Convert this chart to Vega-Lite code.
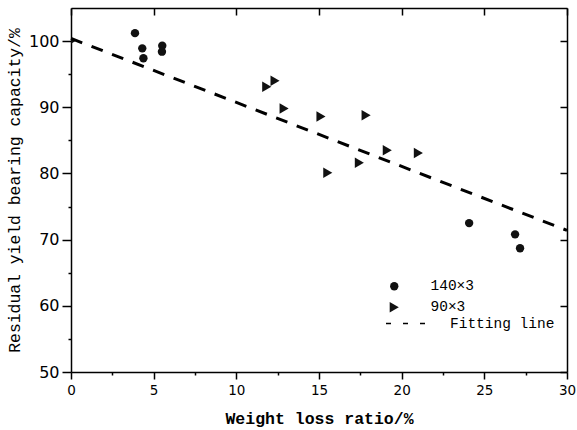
{
  "$schema": "https://vega.github.io/schema/vega-lite/v6.json",
  "width": 496,
  "height": 364,
  "autosize": {"type": "none"},
  "padding": {"left": 71, "top": 8, "right": 10, "bottom": 58},
  "background": "white",
  "config": {"view": {"stroke": null}},
  "data": {
    "values": [
      {"x": 3.87, "y": 101.2, "series": "140×3"},
      {"x": 4.31, "y": 98.9, "series": "140×3"},
      {"x": 4.38, "y": 97.4, "series": "140×3"},
      {"x": 5.52, "y": 99.3, "series": "140×3"},
      {"x": 5.5, "y": 98.4, "series": "140×3"},
      {"x": 24.08, "y": 72.5, "series": "140×3"},
      {"x": 26.86, "y": 70.8, "series": "140×3"},
      {"x": 27.16, "y": 68.7, "series": "140×3"},
      {"x": 0.0, "y": 100.0, "series": "90×3"},
      {"x": 11.84, "y": 93.1, "series": "90×3"},
      {"x": 12.34, "y": 94.0, "series": "90×3"},
      {"x": 12.89, "y": 89.8, "series": "90×3"},
      {"x": 15.12, "y": 88.6, "series": "90×3"},
      {"x": 17.85, "y": 88.8, "series": "90×3"},
      {"x": 15.53, "y": 80.1, "series": "90×3"},
      {"x": 17.44, "y": 81.6, "series": "90×3"},
      {"x": 19.13, "y": 83.5, "series": "90×3"},
      {"x": 21.01, "y": 83.1, "series": "90×3"},
      {"x": 0, "y": 100.4, "series": "Fitting line"},
      {"x": 30, "y": 71.4, "series": "Fitting line"}
    ]
  },
  "layer": [
    {
      "transform": [{"filter": "datum.series !== 'Fitting line'"}],
      "mark": {"type": "point", "filled": true, "opacity": 1, "color": "#111", "clip": true},
      "encoding": {
        "x": {
          "field": "x", "type": "quantitative",
          "scale": {"domain": [0, 30], "nice": false, "zero": false},
          "axis": {
            "orient": "bottom",
            "title": "Weight loss ratio/%",
            "titleFont": "Liberation Mono", "titleFontSize": 16.5, "titleFontWeight": "bold", "titleColor": "black", "titlePadding": 14,
            "values": [0, 2.5, 5, 7.5, 10, 12.5, 15, 17.5, 20, 22.5, 25, 27.5, 30],
            "labelExpr": "datum.value % 5 === 0 ? datum.label : ''",
            "labelFont": "DejaVu Sans", "labelFontSize": 13.5, "labelColor": "black", "labelPadding": 4,
            "labelFlush": false, "labelOverlap": false,
            "tickSize": {"condition": {"test": "datum.value % 5 === 0", "value": 7}, "value": 3},
            "tickColor": "black", "tickWidth": 1.5,
            "domainColor": "black", "domainWidth": 1.5, "grid": false
          }
        },
        "y": {
          "field": "y", "type": "quantitative",
          "scale": {"domain": [50, 105], "nice": false, "zero": false},
          "axis": {
            "orient": "left",
            "title": "Residual yield bearing capacity/%",
            "titleFont": "Liberation Mono", "titleFontSize": 16.4, "titleFontWeight": "normal", "titleColor": "black", "titlePadding": 6,
            "values": [50, 55, 60, 65, 70, 75, 80, 85, 90, 95, 100],
            "labelExpr": "datum.value % 10 === 0 ? datum.label : ''",
            "labelFont": "DejaVu Sans", "labelFontSize": 16, "labelColor": "black", "labelPadding": 3,
            "labelFlush": false, "labelOverlap": false,
            "tickSize": {"condition": {"test": "datum.value % 10 === 0", "value": 9}, "value": 3},
            "tickColor": "black", "tickWidth": 1.5,
            "domainColor": "black", "domainWidth": 1.5, "grid": false
          }
        },
        "shape": {
          "field": "series", "type": "nominal",
          "scale": {"domain": ["140×3", "90×3"], "range": ["circle", "triangle-right"]},
          "legend": {
            "orient": "none", "legendX": 316, "legendY": 271, "title": null, "padding": 0,
            "symbolFillColor": "black", "symbolStrokeColor": "black",
            "labelFont": "Liberation Mono", "labelFontSize": 14.5, "labelColor": "black", "labelOffset": 29,
            "rowPadding": 5
          }
        },
        "size": {
          "field": "series", "type": "nominal",
          "scale": {"domain": ["140×3", "90×3"], "range": [70, 110]},
          "legend": {
            "orient": "none", "legendX": 316, "legendY": 271, "title": null, "padding": 0,
            "symbolFillColor": "black", "symbolStrokeColor": "black",
            "labelFont": "Liberation Mono", "labelFontSize": 14.5, "labelColor": "black", "labelOffset": 29,
            "rowPadding": 5
          }
        }
      }
    },
    {
      "transform": [{"filter": "datum.series === 'Fitting line'"}],
      "mark": {"type": "line", "strokeDash": [12, 10], "strokeWidth": 3},
      "encoding": {
        "x": {
          "field": "x", "type": "quantitative",
          "axis": {
            "orient": "top", "title": null, "labels": false,
            "values": [0, 5, 10, 15, 20, 25, 30],
            "tickSize": -7, "tickColor": "black", "tickWidth": 1.5,
            "domainColor": "black", "domainWidth": 1.5, "grid": false
          }
        },
        "y": {
          "field": "y", "type": "quantitative",
          "axis": {
            "orient": "right", "title": null, "labels": false,
            "values": [50, 60, 70, 80, 90, 100],
            "tickSize": -7, "tickColor": "black", "tickWidth": 1.5,
            "domainColor": "black", "domainWidth": 1.5, "grid": false
          }
        },
        "color": {
          "field": "series", "type": "nominal",
          "scale": {"domain": ["Fitting line"], "range": ["black"]},
          "legend": {
            "orient": "none", "legendX": 314, "legendY": 292, "title": null, "padding": 0,
            "symbolType": "stroke", "symbolSize": 2025, "symbolDash": [5, 12], "symbolStrokeWidth": 1.5,
            "symbolStrokeColor": "#555",
            "labelFont": "Liberation Mono", "labelFontSize": 14.5, "labelColor": "black", "labelOffset": 18
          }
        }
      }
    }
  ],
  "resolve": {"axis": {"x": "independent", "y": "independent"}}
}
